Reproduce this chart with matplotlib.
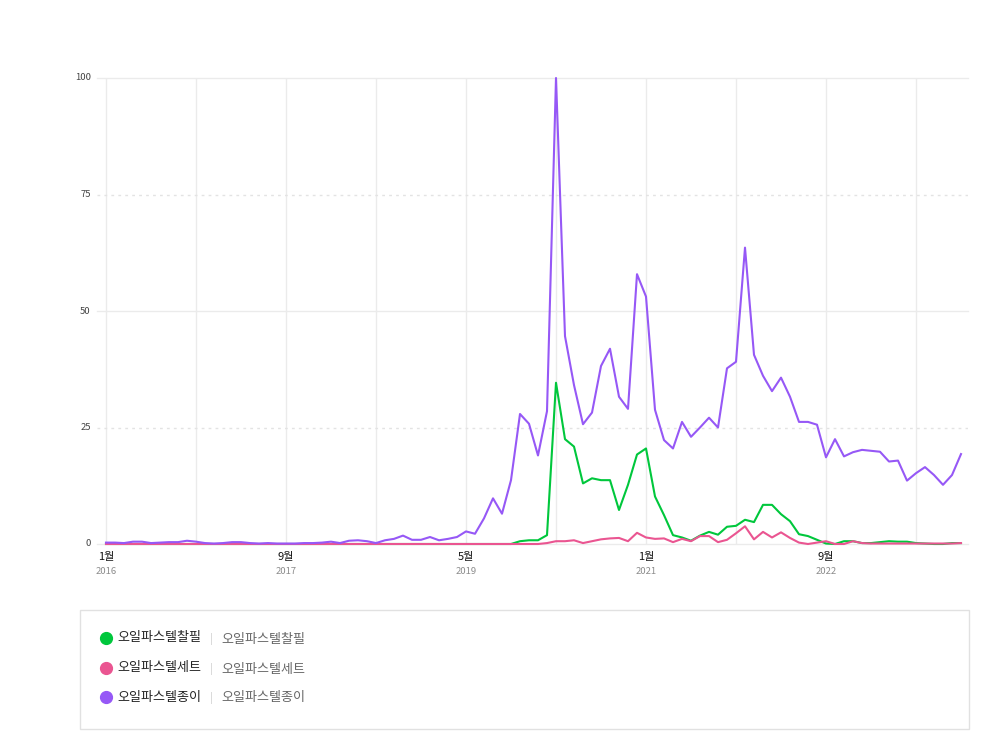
import matplotlib
matplotlib.use("Agg")
import matplotlib.pyplot as plt
from matplotlib.lines import Line2D
from matplotlib.patches import Rectangle
import numpy as np

plt.rcParams['font.family'] = ['Noto Sans CJK KR', 'DejaVu Sans']

# ---- data (monthly, Jan 2016 .. Dec 2023) ----
series_names = ["오일파스텔찰필", "오일파스텔세트", "오일파스텔종이"]
series_colors = ["#00c73c", "#ea5591", "#9658f6"]

green_vals = [
    0, 0, 0, 0, 0, 0, 0, 0, 0, 0,
    0, 0, 0, 0, 0, 0, 0, 0, 0, 0,
    0, 0, 0, 0, 0, 0, 0, 0, 0, 0,
    0, 0, 0, 0, 0, 0, 0, 0, 0, 0,
    0, 0, 0, 0, 0, 0, 0.6, 0.8, 0.8, 1.9,
    34.6, 22.5, 20.9, 13.0, 14.1, 13.7, 13.7, 7.3, 12.7, 19.2,
    20.5, 10.2, 6.2, 1.9, 1.4, 0.7, 1.8, 2.6, 2.0, 3.7,
    3.9, 5.2, 4.7, 8.4, 8.4, 6.4, 4.9, 2.1, 1.7, 0.9,
    0.1, 0, 0.6, 0.6, 0.2, 0.2, 0.4, 0.6, 0.5, 0.5,
    0.2, 0.1, 0, 0, 0.2, 0.2,
]
pink_vals = [
    0, 0, 0, 0, 0, 0, 0, 0, 0, 0,
    0, 0, 0, 0, 0, 0, 0, 0, 0, 0,
    0, 0, 0, 0, 0, 0, 0, 0, 0, 0,
    0, 0, 0, 0, 0, 0, 0, 0, 0, 0,
    0, 0, 0, 0, 0, 0, 0, 0, 0, 0.2,
    0.6, 0.6, 0.8, 0.2, 0.6, 1.0, 1.2, 1.3, 0.6, 2.4,
    1.4, 1.1, 1.2, 0.4, 1.1, 0.6, 1.7, 1.7, 0.4, 0.9,
    2.3, 3.8, 1.0, 2.6, 1.4, 2.5, 1.3, 0.3, 0, 0.3,
    0.6, 0, 0, 0.6, 0.2, 0.1, 0.1, 0.1, 0.1, 0.1,
    0.1, 0.1, 0.1, 0.1, 0.1, 0.2,
]
purple_vals = [
    0.3, 0.3, 0.2, 0.5, 0.5, 0.2, 0.3, 0.4, 0.4, 0.7,
    0.5, 0.2, 0.1, 0.2, 0.4, 0.4, 0.2, 0.1, 0.2, 0.1,
    0.1, 0.1, 0.2, 0.2, 0.3, 0.5, 0.2, 0.7, 0.8, 0.6,
    0.2, 0.8, 1.1, 1.8, 0.9, 0.9, 1.5, 0.8, 1.1, 1.5,
    2.7, 2.2, 5.5, 9.8, 6.5, 13.7, 27.9, 25.8, 19.0, 28.5,
    100, 44.6, 34.1, 25.7, 28.2, 38.2, 41.9, 31.6, 29.0, 57.9,
    53.1, 28.8, 22.3, 20.5, 26.2, 23.0, 25.0, 27.1, 25.0, 37.7,
    39.1, 63.6, 40.6, 36.1, 32.8, 35.7, 31.6, 26.2, 26.2, 25.6,
    18.6, 22.5, 18.8, 19.7, 20.2, 20.0, 19.8, 17.7, 17.9, 13.6,
    15.2, 16.5, 14.8, 12.7, 14.8, 19.3,
]
all_series = [green_vals, pink_vals, purple_vals]

x_tick_pos = [0, 20, 40, 60, 80]
x_tick_month = ["1월", "9월", "5월", "1월", "9월"]
x_tick_year = ["2016", "2017", "2019", "2021", "2022"]
y_ticks = [0, 25, 50, 75, 100]

# ---- figure ----
W, H = 1006, 735
fig = plt.figure(figsize=(W / 100, H / 100), dpi=100)
fig.patch.set_facecolor("white")

def fx(px):
    return px / W

def fy(py):
    return 1 - py / H

ax_l, ax_r, ax_t, ax_b = 97, 968, 78, 544
ax = fig.add_axes([fx(ax_l), fy(ax_b), fx(ax_r - ax_l), (ax_b - ax_t) / H])
ax.set_xlim(-1, (ax_r - 106) / 9.0)
ax.set_ylim(0, 100)
for s in ax.spines.values():
    s.set_visible(False)
ax.set_xticks([])
ax.set_yticks([])

grid_c = "#ebebeb"
for xv in range(0, 96, 10):
    ax.axvline(xv, color=grid_c, lw=1, zorder=0)
for yv in y_ticks:
    if yv in (25, 75):
        ax.axhline(yv, color="#e3e3e3", lw=1, ls=(0, (2, 3)), zorder=0)
    else:
        ax.axhline(yv, color=grid_c, lw=1, zorder=0, clip_on=False)

x = np.arange(len(purple_vals))
for vals, col in zip(all_series, series_colors):
    ax.plot(x, vals, color=col, lw=1.5, solid_joinstyle="round",
            clip_on=False, zorder=3)

# y tick labels
for yv in y_ticks:
    ax.text(-1.7, yv, str(yv), ha="right", va="center", fontsize=6.8,
            color="#444444", transform=ax.transData, clip_on=False)

# x tick labels
for pos, m, yr in zip(x_tick_pos, x_tick_month, x_tick_year):
    ax.annotate(m, xy=(pos, 0), xycoords="data", xytext=(0, -13),
                textcoords="offset pixels", ha="center", va="center",
                fontsize=8, color="#111111", annotation_clip=False)
    ax.annotate(yr, xy=(pos, 0), xycoords="data", xytext=(0, -28),
                textcoords="offset pixels", ha="center", va="center",
                fontsize=6.8, color="#8c8c8c", annotation_clip=False)

# ---- legend box ----
fig.add_artist(Rectangle((fx(80), fy(729)), fx(969 - 80), (729 - 610) / H,
                         transform=fig.transFigure, facecolor="none",
                         edgecolor="#e1e1e1", lw=1))
rows_y = [638, 668, 697]
for name, col, ry in zip(series_names, series_colors, rows_y):
    fig.add_artist(Line2D([fx(105.5)], [fy(ry)], marker="o", markersize=8.5,
                          markerfacecolor=col, markeredgecolor=col,
                          linestyle="none", transform=fig.transFigure))
    fig.text(fx(117), fy(ry), name, ha="left", va="center", fontsize=9.4,
             color="#222222")
    fig.text(fx(211.5), fy(ry + 1), "|", ha="center", va="center",
             fontsize=8, color="#d0d0d0")
    fig.text(fx(221), fy(ry + 1), name, ha="left", va="center", fontsize=9.4,
             color="#666666")

fig.savefig("out.png", dpi=100, facecolor="white")
